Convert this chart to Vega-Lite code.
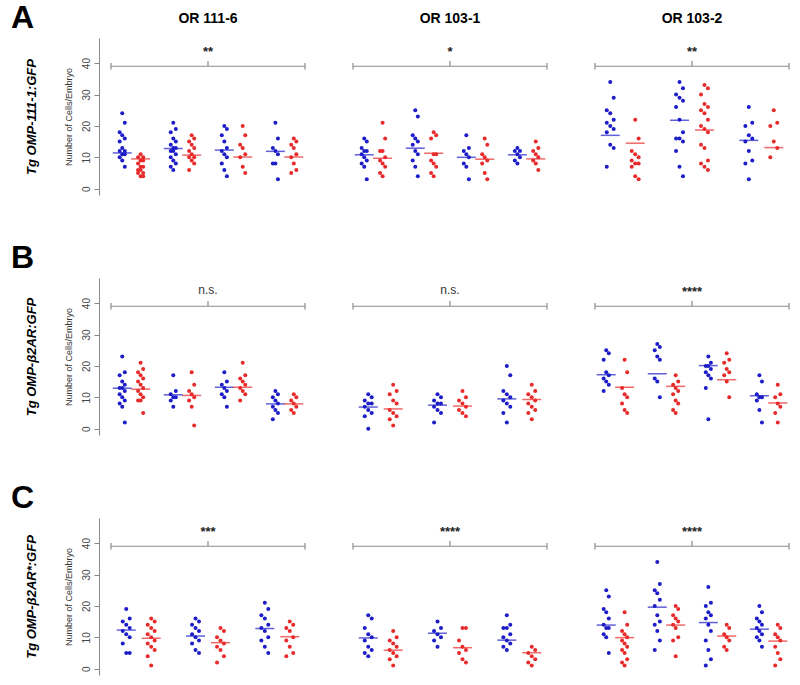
{
"$schema": "https://vega.github.io/schema/vega-lite/v6.json",
"padding": {"left": 11, "top": 2, "right": 5, "bottom": 5},
"config": {"font": "Liberation Sans", "view": {"stroke": null}, "axis": {"grid": false}},
"spacing": 47,
"datasets": {
"A": [
{"c":1,"g":1,"s":"b","v":24},{"c":1,"g":1,"s":"b","v":21},{"c":1,"g":1,"s":"b","v":18},{"c":1,"g":1,"s":"b","v":17},{"c":1,"g":1,"s":"b","v":16},{"c":1,"g":1,"s":"b","v":15},{"c":1,"g":1,"s":"b","v":13},{"c":1,"g":1,"s":"b","v":12},{"c":1,"g":1,"s":"b","v":12},{"c":1,"g":1,"s":"b","v":11},{"c":1,"g":1,"s":"b","v":11},{"c":1,"g":1,"s":"b","v":10},{"c":1,"g":1,"s":"b","v":9},{"c":1,"g":1,"s":"b","v":7},
{"c":1,"g":1,"s":"r","v":11},{"c":1,"g":1,"s":"r","v":10},{"c":1,"g":1,"s":"r","v":10},{"c":1,"g":1,"s":"r","v":9},{"c":1,"g":1,"s":"r","v":9},{"c":1,"g":1,"s":"r","v":8},{"c":1,"g":1,"s":"r","v":7},{"c":1,"g":1,"s":"r","v":7},{"c":1,"g":1,"s":"r","v":6},{"c":1,"g":1,"s":"r","v":6},{"c":1,"g":1,"s":"r","v":5},{"c":1,"g":1,"s":"r","v":5},{"c":1,"g":1,"s":"r","v":4},{"c":1,"g":1,"s":"r","v":4},
{"c":1,"g":2,"s":"b","v":21},{"c":1,"g":2,"s":"b","v":19},{"c":1,"g":2,"s":"b","v":18},{"c":1,"g":2,"s":"b","v":16},{"c":1,"g":2,"s":"b","v":15},{"c":1,"g":2,"s":"b","v":14},{"c":1,"g":2,"s":"b","v":13},{"c":1,"g":2,"s":"b","v":13},{"c":1,"g":2,"s":"b","v":12},{"c":1,"g":2,"s":"b","v":12},{"c":1,"g":2,"s":"b","v":11},{"c":1,"g":2,"s":"b","v":10},{"c":1,"g":2,"s":"b","v":9},{"c":1,"g":2,"s":"b","v":8},{"c":1,"g":2,"s":"b","v":7},{"c":1,"g":2,"s":"b","v":6},
{"c":1,"g":2,"s":"r","v":17},{"c":1,"g":2,"s":"r","v":16},{"c":1,"g":2,"s":"r","v":15},{"c":1,"g":2,"s":"r","v":14},{"c":1,"g":2,"s":"r","v":13},{"c":1,"g":2,"s":"r","v":12},{"c":1,"g":2,"s":"r","v":11},{"c":1,"g":2,"s":"r","v":10},{"c":1,"g":2,"s":"r","v":10},{"c":1,"g":2,"s":"r","v":9},{"c":1,"g":2,"s":"r","v":8},{"c":1,"g":2,"s":"r","v":6},
{"c":1,"g":3,"s":"b","v":20},{"c":1,"g":3,"s":"b","v":19},{"c":1,"g":3,"s":"b","v":17},{"c":1,"g":3,"s":"b","v":15},{"c":1,"g":3,"s":"b","v":13},{"c":1,"g":3,"s":"b","v":12},{"c":1,"g":3,"s":"b","v":11},{"c":1,"g":3,"s":"b","v":10},{"c":1,"g":3,"s":"b","v":8},{"c":1,"g":3,"s":"b","v":6},{"c":1,"g":3,"s":"b","v":4},
{"c":1,"g":3,"s":"r","v":20},{"c":1,"g":3,"s":"r","v":17},{"c":1,"g":3,"s":"r","v":14},{"c":1,"g":3,"s":"r","v":13},{"c":1,"g":3,"s":"r","v":11},{"c":1,"g":3,"s":"r","v":10},{"c":1,"g":3,"s":"r","v":7},{"c":1,"g":3,"s":"r","v":5},
{"c":1,"g":4,"s":"b","v":21},{"c":1,"g":4,"s":"b","v":16},{"c":1,"g":4,"s":"b","v":13},{"c":1,"g":4,"s":"b","v":12},{"c":1,"g":4,"s":"b","v":11},{"c":1,"g":4,"s":"b","v":8},{"c":1,"g":4,"s":"b","v":8},{"c":1,"g":4,"s":"b","v":3},
{"c":1,"g":4,"s":"r","v":16},{"c":1,"g":4,"s":"r","v":15},{"c":1,"g":4,"s":"r","v":14},{"c":1,"g":4,"s":"r","v":13},{"c":1,"g":4,"s":"r","v":11},{"c":1,"g":4,"s":"r","v":10},{"c":1,"g":4,"s":"r","v":8},{"c":1,"g":4,"s":"r","v":6},{"c":1,"g":4,"s":"r","v":5},
{"c":2,"g":1,"s":"b","v":16},{"c":2,"g":1,"s":"b","v":15},{"c":2,"g":1,"s":"b","v":13},{"c":2,"g":1,"s":"b","v":12},{"c":2,"g":1,"s":"b","v":12},{"c":2,"g":1,"s":"b","v":11},{"c":2,"g":1,"s":"b","v":10},{"c":2,"g":1,"s":"b","v":9},{"c":2,"g":1,"s":"b","v":8},{"c":2,"g":1,"s":"b","v":7},{"c":2,"g":1,"s":"b","v":3},
{"c":2,"g":1,"s":"r","v":21},{"c":2,"g":1,"s":"r","v":16},{"c":2,"g":1,"s":"r","v":12},{"c":2,"g":1,"s":"r","v":12},{"c":2,"g":1,"s":"r","v":10},{"c":2,"g":1,"s":"r","v":9},{"c":2,"g":1,"s":"r","v":8},{"c":2,"g":1,"s":"r","v":7},{"c":2,"g":1,"s":"r","v":5},{"c":2,"g":1,"s":"r","v":4},
{"c":2,"g":2,"s":"b","v":25},{"c":2,"g":2,"s":"b","v":23},{"c":2,"g":2,"s":"b","v":17},{"c":2,"g":2,"s":"b","v":16},{"c":2,"g":2,"s":"b","v":15},{"c":2,"g":2,"s":"b","v":14},{"c":2,"g":2,"s":"b","v":12},{"c":2,"g":2,"s":"b","v":11},{"c":2,"g":2,"s":"b","v":9},{"c":2,"g":2,"s":"b","v":7},{"c":2,"g":2,"s":"b","v":4},
{"c":2,"g":2,"s":"r","v":18},{"c":2,"g":2,"s":"r","v":17},{"c":2,"g":2,"s":"r","v":16},{"c":2,"g":2,"s":"r","v":11},{"c":2,"g":2,"s":"r","v":11},{"c":2,"g":2,"s":"r","v":9},{"c":2,"g":2,"s":"r","v":8},{"c":2,"g":2,"s":"r","v":7},{"c":2,"g":2,"s":"r","v":5},{"c":2,"g":2,"s":"r","v":4},
{"c":2,"g":3,"s":"b","v":17},{"c":2,"g":3,"s":"b","v":13},{"c":2,"g":3,"s":"b","v":12},{"c":2,"g":3,"s":"b","v":11},{"c":2,"g":3,"s":"b","v":10},{"c":2,"g":3,"s":"b","v":8},{"c":2,"g":3,"s":"b","v":7},{"c":2,"g":3,"s":"b","v":3},
{"c":2,"g":3,"s":"r","v":16},{"c":2,"g":3,"s":"r","v":14},{"c":2,"g":3,"s":"r","v":11},{"c":2,"g":3,"s":"r","v":10},{"c":2,"g":3,"s":"r","v":9},{"c":2,"g":3,"s":"r","v":8},{"c":2,"g":3,"s":"r","v":5},{"c":2,"g":3,"s":"r","v":3},
{"c":2,"g":4,"s":"b","v":13},{"c":2,"g":4,"s":"b","v":12},{"c":2,"g":4,"s":"b","v":12},{"c":2,"g":4,"s":"b","v":11},{"c":2,"g":4,"s":"b","v":10},{"c":2,"g":4,"s":"b","v":9},{"c":2,"g":4,"s":"b","v":8},
{"c":2,"g":4,"s":"r","v":15},{"c":2,"g":4,"s":"r","v":13},{"c":2,"g":4,"s":"r","v":12},{"c":2,"g":4,"s":"r","v":11},{"c":2,"g":4,"s":"r","v":10},{"c":2,"g":4,"s":"r","v":9},{"c":2,"g":4,"s":"r","v":8},{"c":2,"g":4,"s":"r","v":6},
{"c":3,"g":1,"s":"b","v":34},{"c":3,"g":1,"s":"b","v":29},{"c":3,"g":1,"s":"b","v":25},{"c":3,"g":1,"s":"b","v":24},{"c":3,"g":1,"s":"b","v":22},{"c":3,"g":1,"s":"b","v":21},{"c":3,"g":1,"s":"b","v":20},{"c":3,"g":1,"s":"b","v":19},{"c":3,"g":1,"s":"b","v":18},{"c":3,"g":1,"s":"b","v":14},{"c":3,"g":1,"s":"b","v":13},{"c":3,"g":1,"s":"b","v":7},
{"c":3,"g":1,"s":"r","v":22},{"c":3,"g":1,"s":"r","v":16},{"c":3,"g":1,"s":"r","v":12},{"c":3,"g":1,"s":"r","v":11},{"c":3,"g":1,"s":"r","v":10},{"c":3,"g":1,"s":"r","v":9},{"c":3,"g":1,"s":"r","v":8},{"c":3,"g":1,"s":"r","v":8},{"c":3,"g":1,"s":"r","v":7},{"c":3,"g":1,"s":"r","v":4},{"c":3,"g":1,"s":"r","v":3},
{"c":3,"g":2,"s":"b","v":34},{"c":3,"g":2,"s":"b","v":32},{"c":3,"g":2,"s":"b","v":30},{"c":3,"g":2,"s":"b","v":29},{"c":3,"g":2,"s":"b","v":28},{"c":3,"g":2,"s":"b","v":26},{"c":3,"g":2,"s":"b","v":22},{"c":3,"g":2,"s":"b","v":18},{"c":3,"g":2,"s":"b","v":16},{"c":3,"g":2,"s":"b","v":16},{"c":3,"g":2,"s":"b","v":15},{"c":3,"g":2,"s":"b","v":12},{"c":3,"g":2,"s":"b","v":7},{"c":3,"g":2,"s":"b","v":4},
{"c":3,"g":2,"s":"r","v":33},{"c":3,"g":2,"s":"r","v":32},{"c":3,"g":2,"s":"r","v":30},{"c":3,"g":2,"s":"r","v":27},{"c":3,"g":2,"s":"r","v":26},{"c":3,"g":2,"s":"r","v":25},{"c":3,"g":2,"s":"r","v":24},{"c":3,"g":2,"s":"r","v":22},{"c":3,"g":2,"s":"r","v":20},{"c":3,"g":2,"s":"r","v":19},{"c":3,"g":2,"s":"r","v":18},{"c":3,"g":2,"s":"r","v":14},{"c":3,"g":2,"s":"r","v":13},{"c":3,"g":2,"s":"r","v":9},{"c":3,"g":2,"s":"r","v":8},{"c":3,"g":2,"s":"r","v":7},{"c":3,"g":2,"s":"r","v":6},
{"c":3,"g":3,"s":"b","v":26},{"c":3,"g":3,"s":"b","v":21},{"c":3,"g":3,"s":"b","v":20},{"c":3,"g":3,"s":"b","v":17},{"c":3,"g":3,"s":"b","v":16},{"c":3,"g":3,"s":"b","v":15},{"c":3,"g":3,"s":"b","v":12},{"c":3,"g":3,"s":"b","v":9},{"c":3,"g":3,"s":"b","v":8},{"c":3,"g":3,"s":"b","v":3},
{"c":3,"g":3,"s":"r","v":25},{"c":3,"g":3,"s":"r","v":21},{"c":3,"g":3,"s":"r","v":20},{"c":3,"g":3,"s":"r","v":15},{"c":3,"g":3,"s":"r","v":13},{"c":3,"g":3,"s":"r","v":10},
{"c":1,"g":1,"s":"b","v":11.4,"k":"m"},{"c":1,"g":1,"s":"r","v":9.5,"k":"m"},{"c":1,"g":2,"s":"b","v":12.8,"k":"m"},{"c":1,"g":2,"s":"r","v":10.7,"k":"m"},{"c":1,"g":3,"s":"b","v":12.3,"k":"m"},{"c":1,"g":3,"s":"r","v":10.1,"k":"m"},{"c":1,"g":4,"s":"b","v":11.9,"k":"m"},{"c":1,"g":4,"s":"r","v":10.1,"k":"m"},
{"c":2,"g":1,"s":"b","v":10.8,"k":"m"},{"c":2,"g":1,"s":"r","v":9.7,"k":"m"},{"c":2,"g":2,"s":"b","v":12.9,"k":"m"},{"c":2,"g":2,"s":"r","v":11.3,"k":"m"},{"c":2,"g":3,"s":"b","v":10.0,"k":"m"},{"c":2,"g":3,"s":"r","v":9.4,"k":"m"},{"c":2,"g":4,"s":"b","v":10.8,"k":"m"},{"c":2,"g":4,"s":"r","v":9.5,"k":"m"},
{"c":3,"g":1,"s":"b","v":17.0,"k":"m"},{"c":3,"g":1,"s":"r","v":14.5,"k":"m"},{"c":3,"g":2,"s":"b","v":21.8,"k":"m"},{"c":3,"g":2,"s":"r","v":18.7,"k":"m"},{"c":3,"g":3,"s":"b","v":15.4,"k":"m"},{"c":3,"g":3,"s":"r","v":13.1,"k":"m"},
{"c":1,"k":"b","lo":0.6,"hi":4.4,"mid":2.5,"sig":"**"},{"c":2,"k":"b","lo":0.6,"hi":4.4,"mid":2.5,"sig":"*"},{"c":3,"k":"b","lo":0.6,"hi":3.4,"mid":2,"sig":"**"}
],
"B": [
{"c":1,"g":1,"s":"b","v":23},{"c":1,"g":1,"s":"b","v":18},{"c":1,"g":1,"s":"b","v":17},{"c":1,"g":1,"s":"b","v":15},{"c":1,"g":1,"s":"b","v":14},{"c":1,"g":1,"s":"b","v":13},{"c":1,"g":1,"s":"b","v":13},{"c":1,"g":1,"s":"b","v":12},{"c":1,"g":1,"s":"b","v":11},{"c":1,"g":1,"s":"b","v":10},{"c":1,"g":1,"s":"b","v":9},{"c":1,"g":1,"s":"b","v":8},{"c":1,"g":1,"s":"b","v":7},{"c":1,"g":1,"s":"b","v":2},
{"c":1,"g":1,"s":"r","v":21},{"c":1,"g":1,"s":"r","v":19},{"c":1,"g":1,"s":"r","v":18},{"c":1,"g":1,"s":"r","v":17},{"c":1,"g":1,"s":"r","v":16},{"c":1,"g":1,"s":"r","v":15},{"c":1,"g":1,"s":"r","v":14},{"c":1,"g":1,"s":"r","v":13},{"c":1,"g":1,"s":"r","v":12},{"c":1,"g":1,"s":"r","v":11},{"c":1,"g":1,"s":"r","v":10},{"c":1,"g":1,"s":"r","v":9},{"c":1,"g":1,"s":"r","v":9},{"c":1,"g":1,"s":"r","v":5},
{"c":1,"g":2,"s":"b","v":17},{"c":1,"g":2,"s":"b","v":12},{"c":1,"g":2,"s":"b","v":11},{"c":1,"g":2,"s":"b","v":10},{"c":1,"g":2,"s":"b","v":10},{"c":1,"g":2,"s":"b","v":9},{"c":1,"g":2,"s":"b","v":7},
{"c":1,"g":2,"s":"r","v":18},{"c":1,"g":2,"s":"r","v":14},{"c":1,"g":2,"s":"r","v":12},{"c":1,"g":2,"s":"r","v":11},{"c":1,"g":2,"s":"r","v":10},{"c":1,"g":2,"s":"r","v":9},{"c":1,"g":2,"s":"r","v":7},{"c":1,"g":2,"s":"r","v":1},
{"c":1,"g":3,"s":"b","v":18},{"c":1,"g":3,"s":"b","v":15},{"c":1,"g":3,"s":"b","v":14},{"c":1,"g":3,"s":"b","v":13},{"c":1,"g":3,"s":"b","v":12},{"c":1,"g":3,"s":"b","v":11},{"c":1,"g":3,"s":"b","v":10},{"c":1,"g":3,"s":"b","v":7},
{"c":1,"g":3,"s":"r","v":21},{"c":1,"g":3,"s":"r","v":17},{"c":1,"g":3,"s":"r","v":16},{"c":1,"g":3,"s":"r","v":15},{"c":1,"g":3,"s":"r","v":14},{"c":1,"g":3,"s":"r","v":13},{"c":1,"g":3,"s":"r","v":12},{"c":1,"g":3,"s":"r","v":11},{"c":1,"g":3,"s":"r","v":9},
{"c":1,"g":4,"s":"b","v":12},{"c":1,"g":4,"s":"b","v":11},{"c":1,"g":4,"s":"b","v":10},{"c":1,"g":4,"s":"b","v":9},{"c":1,"g":4,"s":"b","v":8},{"c":1,"g":4,"s":"b","v":7},{"c":1,"g":4,"s":"b","v":6},{"c":1,"g":4,"s":"b","v":5},{"c":1,"g":4,"s":"b","v":3},
{"c":1,"g":4,"s":"r","v":11},{"c":1,"g":4,"s":"r","v":10},{"c":1,"g":4,"s":"r","v":9},{"c":1,"g":4,"s":"r","v":8},{"c":1,"g":4,"s":"r","v":7},{"c":1,"g":4,"s":"r","v":6},{"c":1,"g":4,"s":"r","v":5},
{"c":2,"g":1,"s":"b","v":11},{"c":2,"g":1,"s":"b","v":10},{"c":2,"g":1,"s":"b","v":9},{"c":2,"g":1,"s":"b","v":8},{"c":2,"g":1,"s":"b","v":8},{"c":2,"g":1,"s":"b","v":7},{"c":2,"g":1,"s":"b","v":6},{"c":2,"g":1,"s":"b","v":5},{"c":2,"g":1,"s":"b","v":4},{"c":2,"g":1,"s":"b","v":0},
{"c":2,"g":1,"s":"r","v":14},{"c":2,"g":1,"s":"r","v":12},{"c":2,"g":1,"s":"r","v":11},{"c":2,"g":1,"s":"r","v":9},{"c":2,"g":1,"s":"r","v":8},{"c":2,"g":1,"s":"r","v":6},{"c":2,"g":1,"s":"r","v":5},{"c":2,"g":1,"s":"r","v":4},{"c":2,"g":1,"s":"r","v":3},{"c":2,"g":1,"s":"r","v":1},
{"c":2,"g":2,"s":"b","v":11},{"c":2,"g":2,"s":"b","v":10},{"c":2,"g":2,"s":"b","v":9},{"c":2,"g":2,"s":"b","v":8},{"c":2,"g":2,"s":"b","v":8},{"c":2,"g":2,"s":"b","v":7},{"c":2,"g":2,"s":"b","v":6},{"c":2,"g":2,"s":"b","v":5},{"c":2,"g":2,"s":"b","v":2},
{"c":2,"g":2,"s":"r","v":12},{"c":2,"g":2,"s":"r","v":10},{"c":2,"g":2,"s":"r","v":9},{"c":2,"g":2,"s":"r","v":8},{"c":2,"g":2,"s":"r","v":7},{"c":2,"g":2,"s":"r","v":6},{"c":2,"g":2,"s":"r","v":5},{"c":2,"g":2,"s":"r","v":4},
{"c":2,"g":3,"s":"b","v":20},{"c":2,"g":3,"s":"b","v":17},{"c":2,"g":3,"s":"b","v":12},{"c":2,"g":3,"s":"b","v":11},{"c":2,"g":3,"s":"b","v":10},{"c":2,"g":3,"s":"b","v":9},{"c":2,"g":3,"s":"b","v":8},{"c":2,"g":3,"s":"b","v":7},{"c":2,"g":3,"s":"b","v":5},{"c":2,"g":3,"s":"b","v":2},
{"c":2,"g":3,"s":"r","v":14},{"c":2,"g":3,"s":"r","v":12},{"c":2,"g":3,"s":"r","v":11},{"c":2,"g":3,"s":"r","v":10},{"c":2,"g":3,"s":"r","v":9},{"c":2,"g":3,"s":"r","v":8},{"c":2,"g":3,"s":"r","v":7},{"c":2,"g":3,"s":"r","v":6},{"c":2,"g":3,"s":"r","v":5},{"c":2,"g":3,"s":"r","v":3},
{"c":3,"g":1,"s":"b","v":25},{"c":3,"g":1,"s":"b","v":24},{"c":3,"g":1,"s":"b","v":22},{"c":3,"g":1,"s":"b","v":18},{"c":3,"g":1,"s":"b","v":17},{"c":3,"g":1,"s":"b","v":16},{"c":3,"g":1,"s":"b","v":15},{"c":3,"g":1,"s":"b","v":14},{"c":3,"g":1,"s":"b","v":12},
{"c":3,"g":1,"s":"r","v":22},{"c":3,"g":1,"s":"r","v":18},{"c":3,"g":1,"s":"r","v":13},{"c":3,"g":1,"s":"r","v":11},{"c":3,"g":1,"s":"r","v":10},{"c":3,"g":1,"s":"r","v":8},{"c":3,"g":1,"s":"r","v":6},{"c":3,"g":1,"s":"r","v":5},
{"c":3,"g":2,"s":"b","v":27},{"c":3,"g":2,"s":"b","v":26},{"c":3,"g":2,"s":"b","v":25},{"c":3,"g":2,"s":"b","v":23},{"c":3,"g":2,"s":"b","v":22},{"c":3,"g":2,"s":"b","v":16},{"c":3,"g":2,"s":"b","v":15},{"c":3,"g":2,"s":"b","v":10},
{"c":3,"g":2,"s":"r","v":17},{"c":3,"g":2,"s":"r","v":15},{"c":3,"g":2,"s":"r","v":14},{"c":3,"g":2,"s":"r","v":13},{"c":3,"g":2,"s":"r","v":12},{"c":3,"g":2,"s":"r","v":11},{"c":3,"g":2,"s":"r","v":9},{"c":3,"g":2,"s":"r","v":8},{"c":3,"g":2,"s":"r","v":6},{"c":3,"g":2,"s":"r","v":5},
{"c":3,"g":3,"s":"b","v":23},{"c":3,"g":3,"s":"b","v":21},{"c":3,"g":3,"s":"b","v":20},{"c":3,"g":3,"s":"b","v":20},{"c":3,"g":3,"s":"b","v":19},{"c":3,"g":3,"s":"b","v":18},{"c":3,"g":3,"s":"b","v":17},{"c":3,"g":3,"s":"b","v":16},{"c":3,"g":3,"s":"b","v":13},{"c":3,"g":3,"s":"b","v":3},
{"c":3,"g":3,"s":"r","v":24},{"c":3,"g":3,"s":"r","v":22},{"c":3,"g":3,"s":"r","v":21},{"c":3,"g":3,"s":"r","v":19},{"c":3,"g":3,"s":"r","v":18},{"c":3,"g":3,"s":"r","v":17},{"c":3,"g":3,"s":"r","v":15},{"c":3,"g":3,"s":"r","v":10},
{"c":3,"g":4,"s":"b","v":17},{"c":3,"g":4,"s":"b","v":15},{"c":3,"g":4,"s":"b","v":11},{"c":3,"g":4,"s":"b","v":10},{"c":3,"g":4,"s":"b","v":10},{"c":3,"g":4,"s":"b","v":9},{"c":3,"g":4,"s":"b","v":6},{"c":3,"g":4,"s":"b","v":2},
{"c":3,"g":4,"s":"r","v":14},{"c":3,"g":4,"s":"r","v":11},{"c":3,"g":4,"s":"r","v":10},{"c":3,"g":4,"s":"r","v":8},{"c":3,"g":4,"s":"r","v":7},{"c":3,"g":4,"s":"r","v":5},{"c":3,"g":4,"s":"r","v":2},
{"c":1,"g":1,"s":"b","v":12.9,"k":"m"},{"c":1,"g":1,"s":"r","v":12.6,"k":"m"},{"c":1,"g":2,"s":"b","v":10.8,"k":"m"},{"c":1,"g":2,"s":"r","v":10.6,"k":"m"},{"c":1,"g":3,"s":"b","v":13.2,"k":"m"},{"c":1,"g":3,"s":"r","v":13.2,"k":"m"},{"c":1,"g":4,"s":"b","v":7.9,"k":"m"},{"c":1,"g":4,"s":"r","v":7.9,"k":"m"},
{"c":2,"g":1,"s":"b","v":6.9,"k":"m"},{"c":2,"g":1,"s":"r","v":6.3,"k":"m"},{"c":2,"g":2,"s":"b","v":7.5,"k":"m"},{"c":2,"g":2,"s":"r","v":7.2,"k":"m"},{"c":2,"g":3,"s":"b","v":9.5,"k":"m"},{"c":2,"g":3,"s":"r","v":9.3,"k":"m"},
{"c":3,"g":1,"s":"b","v":17.2,"k":"m"},{"c":3,"g":1,"s":"r","v":13.2,"k":"m"},{"c":3,"g":2,"s":"b","v":17.5,"k":"m"},{"c":3,"g":2,"s":"r","v":13.5,"k":"m"},{"c":3,"g":3,"s":"b","v":20.1,"k":"m"},{"c":3,"g":3,"s":"r","v":15.6,"k":"m"},{"c":3,"g":4,"s":"b","v":10.5,"k":"m"},{"c":3,"g":4,"s":"r","v":8.2,"k":"m"},
{"c":1,"k":"b","lo":0.6,"hi":4.4,"mid":2.5,"sig":"n.s."},{"c":2,"k":"b","lo":0.6,"hi":3.4,"mid":2,"sig":"n.s."},{"c":3,"k":"b","lo":0.6,"hi":4.4,"mid":2.5,"sig":"****"}
],
"C": [
{"c":1,"g":1,"s":"b","v":19},{"c":1,"g":1,"s":"b","v":16},{"c":1,"g":1,"s":"b","v":15},{"c":1,"g":1,"s":"b","v":14},{"c":1,"g":1,"s":"b","v":13},{"c":1,"g":1,"s":"b","v":12},{"c":1,"g":1,"s":"b","v":11},{"c":1,"g":1,"s":"b","v":10},{"c":1,"g":1,"s":"b","v":8},{"c":1,"g":1,"s":"b","v":5},{"c":1,"g":1,"s":"b","v":5},
{"c":1,"g":1,"s":"r","v":16},{"c":1,"g":1,"s":"r","v":15},{"c":1,"g":1,"s":"r","v":14},{"c":1,"g":1,"s":"r","v":13},{"c":1,"g":1,"s":"r","v":12},{"c":1,"g":1,"s":"r","v":11},{"c":1,"g":1,"s":"r","v":10},{"c":1,"g":1,"s":"r","v":9},{"c":1,"g":1,"s":"r","v":8},{"c":1,"g":1,"s":"r","v":7},{"c":1,"g":1,"s":"r","v":6},{"c":1,"g":1,"s":"r","v":4},{"c":1,"g":1,"s":"r","v":1},
{"c":1,"g":2,"s":"b","v":16},{"c":1,"g":2,"s":"b","v":15},{"c":1,"g":2,"s":"b","v":14},{"c":1,"g":2,"s":"b","v":13},{"c":1,"g":2,"s":"b","v":12},{"c":1,"g":2,"s":"b","v":11},{"c":1,"g":2,"s":"b","v":10},{"c":1,"g":2,"s":"b","v":9},{"c":1,"g":2,"s":"b","v":8},{"c":1,"g":2,"s":"b","v":6},{"c":1,"g":2,"s":"b","v":5},
{"c":1,"g":2,"s":"r","v":13},{"c":1,"g":2,"s":"r","v":12},{"c":1,"g":2,"s":"r","v":10},{"c":1,"g":2,"s":"r","v":9},{"c":1,"g":2,"s":"r","v":8},{"c":1,"g":2,"s":"r","v":7},{"c":1,"g":2,"s":"r","v":6},{"c":1,"g":2,"s":"r","v":4},{"c":1,"g":2,"s":"r","v":2},
{"c":1,"g":3,"s":"b","v":21},{"c":1,"g":3,"s":"b","v":19},{"c":1,"g":3,"s":"b","v":17},{"c":1,"g":3,"s":"b","v":16},{"c":1,"g":3,"s":"b","v":14},{"c":1,"g":3,"s":"b","v":13},{"c":1,"g":3,"s":"b","v":12},{"c":1,"g":3,"s":"b","v":10},{"c":1,"g":3,"s":"b","v":9},{"c":1,"g":3,"s":"b","v":7},{"c":1,"g":3,"s":"b","v":5},
{"c":1,"g":3,"s":"r","v":15},{"c":1,"g":3,"s":"r","v":14},{"c":1,"g":3,"s":"r","v":13},{"c":1,"g":3,"s":"r","v":12},{"c":1,"g":3,"s":"r","v":10},{"c":1,"g":3,"s":"r","v":9},{"c":1,"g":3,"s":"r","v":7},{"c":1,"g":3,"s":"r","v":5},{"c":1,"g":3,"s":"r","v":4},
{"c":2,"g":1,"s":"b","v":17},{"c":2,"g":1,"s":"b","v":16},{"c":2,"g":1,"s":"b","v":13},{"c":2,"g":1,"s":"b","v":11},{"c":2,"g":1,"s":"b","v":10},{"c":2,"g":1,"s":"b","v":9},{"c":2,"g":1,"s":"b","v":7},{"c":2,"g":1,"s":"b","v":6},{"c":2,"g":1,"s":"b","v":5},{"c":2,"g":1,"s":"b","v":4},
{"c":2,"g":1,"s":"r","v":12},{"c":2,"g":1,"s":"r","v":10},{"c":2,"g":1,"s":"r","v":9},{"c":2,"g":1,"s":"r","v":8},{"c":2,"g":1,"s":"r","v":7},{"c":2,"g":1,"s":"r","v":6},{"c":2,"g":1,"s":"r","v":5},{"c":2,"g":1,"s":"r","v":4},{"c":2,"g":1,"s":"r","v":3},{"c":2,"g":1,"s":"r","v":1},
{"c":2,"g":2,"s":"b","v":15},{"c":2,"g":2,"s":"b","v":13},{"c":2,"g":2,"s":"b","v":12},{"c":2,"g":2,"s":"b","v":11},{"c":2,"g":2,"s":"b","v":10},{"c":2,"g":2,"s":"b","v":9},{"c":2,"g":2,"s":"b","v":7},
{"c":2,"g":2,"s":"r","v":13},{"c":2,"g":2,"s":"r","v":13},{"c":2,"g":2,"s":"r","v":9},{"c":2,"g":2,"s":"r","v":7},{"c":2,"g":2,"s":"r","v":6},{"c":2,"g":2,"s":"r","v":5},{"c":2,"g":2,"s":"r","v":3},{"c":2,"g":2,"s":"r","v":2},
{"c":2,"g":3,"s":"b","v":17},{"c":2,"g":3,"s":"b","v":14},{"c":2,"g":3,"s":"b","v":13},{"c":2,"g":3,"s":"b","v":13},{"c":2,"g":3,"s":"b","v":11},{"c":2,"g":3,"s":"b","v":10},{"c":2,"g":3,"s":"b","v":9},{"c":2,"g":3,"s":"b","v":8},{"c":2,"g":3,"s":"b","v":7},{"c":2,"g":3,"s":"b","v":6},
{"c":2,"g":3,"s":"r","v":7},{"c":2,"g":3,"s":"r","v":6},{"c":2,"g":3,"s":"r","v":5},{"c":2,"g":3,"s":"r","v":4},{"c":2,"g":3,"s":"r","v":3},{"c":2,"g":3,"s":"r","v":2},{"c":2,"g":3,"s":"r","v":1},
{"c":3,"g":1,"s":"b","v":25},{"c":3,"g":1,"s":"b","v":23},{"c":3,"g":1,"s":"b","v":19},{"c":3,"g":1,"s":"b","v":18},{"c":3,"g":1,"s":"b","v":16},{"c":3,"g":1,"s":"b","v":14},{"c":3,"g":1,"s":"b","v":13},{"c":3,"g":1,"s":"b","v":13},{"c":3,"g":1,"s":"b","v":11},{"c":3,"g":1,"s":"b","v":10},{"c":3,"g":1,"s":"b","v":5},
{"c":3,"g":1,"s":"r","v":18},{"c":3,"g":1,"s":"r","v":14},{"c":3,"g":1,"s":"r","v":12},{"c":3,"g":1,"s":"r","v":11},{"c":3,"g":1,"s":"r","v":10},{"c":3,"g":1,"s":"r","v":9},{"c":3,"g":1,"s":"r","v":8},{"c":3,"g":1,"s":"r","v":7},{"c":3,"g":1,"s":"r","v":6},{"c":3,"g":1,"s":"r","v":5},{"c":3,"g":1,"s":"r","v":3},{"c":3,"g":1,"s":"r","v":2},{"c":3,"g":1,"s":"r","v":1},
{"c":3,"g":2,"s":"b","v":34},{"c":3,"g":2,"s":"b","v":27},{"c":3,"g":2,"s":"b","v":25},{"c":3,"g":2,"s":"b","v":24},{"c":3,"g":2,"s":"b","v":22},{"c":3,"g":2,"s":"b","v":20},{"c":3,"g":2,"s":"b","v":17},{"c":3,"g":2,"s":"b","v":15},{"c":3,"g":2,"s":"b","v":14},{"c":3,"g":2,"s":"b","v":12},{"c":3,"g":2,"s":"b","v":9},{"c":3,"g":2,"s":"b","v":6},
{"c":3,"g":2,"s":"r","v":20},{"c":3,"g":2,"s":"r","v":19},{"c":3,"g":2,"s":"r","v":17},{"c":3,"g":2,"s":"r","v":16},{"c":3,"g":2,"s":"r","v":15},{"c":3,"g":2,"s":"r","v":14},{"c":3,"g":2,"s":"r","v":13},{"c":3,"g":2,"s":"r","v":10},{"c":3,"g":2,"s":"r","v":9},{"c":3,"g":2,"s":"r","v":4},
{"c":3,"g":3,"s":"b","v":26},{"c":3,"g":3,"s":"b","v":21},{"c":3,"g":3,"s":"b","v":20},{"c":3,"g":3,"s":"b","v":18},{"c":3,"g":3,"s":"b","v":17},{"c":3,"g":3,"s":"b","v":16},{"c":3,"g":3,"s":"b","v":14},{"c":3,"g":3,"s":"b","v":12},{"c":3,"g":3,"s":"b","v":9},{"c":3,"g":3,"s":"b","v":6},{"c":3,"g":3,"s":"b","v":3},{"c":3,"g":3,"s":"b","v":1},
{"c":3,"g":3,"s":"r","v":14},{"c":3,"g":3,"s":"r","v":13},{"c":3,"g":3,"s":"r","v":11},{"c":3,"g":3,"s":"r","v":10},{"c":3,"g":3,"s":"r","v":9},{"c":3,"g":3,"s":"r","v":7},{"c":3,"g":3,"s":"r","v":6},
{"c":3,"g":4,"s":"b","v":20},{"c":3,"g":4,"s":"b","v":18},{"c":3,"g":4,"s":"b","v":16},{"c":3,"g":4,"s":"b","v":15},{"c":3,"g":4,"s":"b","v":14},{"c":3,"g":4,"s":"b","v":13},{"c":3,"g":4,"s":"b","v":12},{"c":3,"g":4,"s":"b","v":11},{"c":3,"g":4,"s":"b","v":10},{"c":3,"g":4,"s":"b","v":9},{"c":3,"g":4,"s":"b","v":7},
{"c":3,"g":4,"s":"r","v":14},{"c":3,"g":4,"s":"r","v":13},{"c":3,"g":4,"s":"r","v":11},{"c":3,"g":4,"s":"r","v":10},{"c":3,"g":4,"s":"r","v":9},{"c":3,"g":4,"s":"r","v":7},{"c":3,"g":4,"s":"r","v":5},{"c":3,"g":4,"s":"r","v":3},{"c":3,"g":4,"s":"r","v":1},
{"c":1,"g":1,"s":"b","v":12.3,"k":"m"},{"c":1,"g":1,"s":"r","v":9.7,"k":"m"},{"c":1,"g":2,"s":"b","v":10.4,"k":"m"},{"c":1,"g":2,"s":"r","v":8.3,"k":"m"},{"c":1,"g":3,"s":"b","v":12.8,"k":"m"},{"c":1,"g":3,"s":"r","v":10.2,"k":"m"},
{"c":2,"g":1,"s":"b","v":9.8,"k":"m"},{"c":2,"g":1,"s":"r","v":5.9,"k":"m"},{"c":2,"g":2,"s":"b","v":11.3,"k":"m"},{"c":2,"g":2,"s":"r","v":6.7,"k":"m"},{"c":2,"g":3,"s":"b","v":9.1,"k":"m"},{"c":2,"g":3,"s":"r","v":5.1,"k":"m"},
{"c":3,"g":1,"s":"b","v":13.9,"k":"m"},{"c":3,"g":1,"s":"r","v":9.9,"k":"m"},{"c":3,"g":2,"s":"b","v":19.6,"k":"m"},{"c":3,"g":2,"s":"r","v":13.9,"k":"m"},{"c":3,"g":3,"s":"b","v":14.7,"k":"m"},{"c":3,"g":3,"s":"r","v":10.4,"k":"m"},{"c":3,"g":4,"s":"b","v":12.6,"k":"m"},{"c":3,"g":4,"s":"r","v":8.8,"k":"m"},
{"c":1,"k":"b","lo":0.6,"hi":3.4,"mid":2,"sig":"***"},{"c":2,"k":"b","lo":0.6,"hi":3.4,"mid":2,"sig":"****"},{"c":3,"k":"b","lo":0.6,"hi":4.4,"mid":2.5,"sig":"****"}
]
},
"vconcat": [
{
"data": {"name": "A"},
"title": {"text": "A", "anchor": "start", "frame": "bounds", "fontSize": 32, "fontWeight": "bold", "color": "#000", "offset": 3, "dx": -14, "dy": 26},
"transform": [
{"window": [{"op": "row_number", "as": "rn"}], "groupby": ["c", "g", "s"]},
{"calculate": "datum.g + (datum.s == 'b' ? -0.18 : 0.18)", "as": "xp"},
{"calculate": "datum.xp + ((datum.rn % 3) - 1) * 0.05", "as": "xj"}
],
"facet": {"column": {"field": "c", "type": "ordinal", "header": {"title": null, "labelExpr": "['','OR 111-6','OR 103-1','OR 103-2'][datum.value]", "labelFontSize": 14, "labelFontWeight": "bold", "labelColor": "#000", "labelPadding": 12}}},
"spacing": 46,
"resolve": {"scale": {"x": "independent"}},
"spec": {
"width": 194, "height": 157,
"resolve": {"axis": {"y": "independent"}},
"layer": [
{"transform": [{"filter": "!datum.k"}], "mark": {"type": "circle", "size": 16, "opacity": 1},
 "encoding": {
  "x": {"field": "xj", "type": "quantitative", "scale": {"zero": false, "nice": false, "padding": 0}, "axis": {"title": null, "labels": false, "ticks": false, "grid": false, "domainColor": "#888", "domainWidth": 1.2}},
  "y": {"field": "v", "type": "quantitative", "scale": {"domain": [-2, 48], "nice": false, "zero": false}, "axis": {"orient": "left", "offset": 11, "values": [0, 10, 20, 30, 40], "title": "Number of Cells/Embryo", "titleFontSize": 9, "titleFontWeight": "normal", "titleColor": "#333", "titlePadding": 8, "labelAngle": -90, "labelAlign": "center", "labelBaseline": "bottom", "labelFontSize": 10, "labelColor": "#444", "labelPadding": 3, "tickColor": "#888", "domainColor": "#888", "tickSize": 5, "grid": false}},
  "color": {"field": "s", "type": "nominal", "scale": {"domain": ["b", "r"], "range": ["#1c1cc8", "#e82a2a"]}, "legend": null}}},
{"transform": [{"filter": "datum.k == 'm'"}], "mark": {"type": "tick", "orient": "horizontal", "size": 19, "thickness": 1.5},
 "encoding": {"x": {"field": "xp", "type": "quantitative", "axis": null}, "y": {"field": "v", "type": "quantitative", "axis": null}, "color": {"field": "s", "type": "nominal", "legend": null}}},
{"transform": [{"filter": "datum.k == 'b'"}], "mark": {"type": "rule", "color": "#8a8a8a", "strokeWidth": 1.2},
 "encoding": {"x": {"field": "lo", "type": "quantitative", "axis": null}, "x2": {"field": "hi"}, "y": {"datum": 39, "type": "quantitative", "axis": {"orient": "left", "offset": 64, "title": "Tg OMP-111-1:GFP", "titleFontSize": 13, "titleFontWeight": "bold", "titleFontStyle": "italic", "titleColor": "#000", "titlePadding": 8, "labels": false, "ticks": false, "domain": false, "grid": false}}}},
{"transform": [{"filter": "datum.k == 'b'"}], "mark": {"type": "rule", "color": "#8a8a8a", "strokeWidth": 1.2},
 "encoding": {"x": {"field": "lo", "type": "quantitative", "axis": null}, "y": {"datum": 38, "type": "quantitative", "axis": null}, "y2": {"datum": 40}}},
{"transform": [{"filter": "datum.k == 'b'"}], "mark": {"type": "rule", "color": "#8a8a8a", "strokeWidth": 1.2},
 "encoding": {"x": {"field": "hi", "type": "quantitative", "axis": null}, "y": {"datum": 38, "type": "quantitative", "axis": null}, "y2": {"datum": 40}}},
{"transform": [{"filter": "datum.k == 'b'"}], "mark": {"type": "rule", "color": "#8a8a8a", "strokeWidth": 1.2},
 "encoding": {"x": {"field": "mid", "type": "quantitative", "axis": null}, "y": {"datum": 39, "type": "quantitative", "axis": null}, "y2": {"datum": 40.7}}},
{"transform": [{"filter": "datum.k == 'b' && datum.sig != 'n.s.'"}], "mark": {"type": "text", "fontSize": 13, "fontWeight": "bold", "baseline": "alphabetic", "color": "#222"},
 "encoding": {"x": {"field": "mid", "type": "quantitative", "axis": null}, "y": {"datum": 42.3, "type": "quantitative", "axis": null}, "text": {"field": "sig"}}},
{"transform": [{"filter": "datum.k == 'b' && datum.sig == 'n.s.'"}], "mark": {"type": "text", "fontSize": 12, "baseline": "alphabetic", "color": "#333"},
 "encoding": {"x": {"field": "mid", "type": "quantitative", "axis": null}, "y": {"datum": 43, "type": "quantitative", "axis": null}, "text": {"field": "sig"}}}
]
}
},
{
"data": {"name": "B"},
"title": {"text": "B", "anchor": "start", "frame": "bounds", "fontSize": 32, "fontWeight": "bold", "color": "#000", "offset": 3, "dx": -14},
"transform": [
{"window": [{"op": "row_number", "as": "rn"}], "groupby": ["c", "g", "s"]},
{"calculate": "datum.g + (datum.s == 'b' ? -0.18 : 0.18)", "as": "xp"},
{"calculate": "datum.xp + ((datum.rn % 3) - 1) * 0.05", "as": "xj"}
],
"facet": {"column": {"field": "c", "type": "ordinal", "header": {"title": null, "labels": false}}},
"spacing": 46,
"resolve": {"scale": {"x": "independent"}},
"spec": {
"width": 194, "height": 157,
"resolve": {"axis": {"y": "independent"}},
"layer": [
{"transform": [{"filter": "!datum.k"}], "mark": {"type": "circle", "size": 16, "opacity": 1},
 "encoding": {
  "x": {"field": "xj", "type": "quantitative", "scale": {"zero": false, "nice": false, "padding": 0}, "axis": {"title": null, "labels": false, "ticks": false, "grid": false, "domainColor": "#888", "domainWidth": 1.2}},
  "y": {"field": "v", "type": "quantitative", "scale": {"domain": [-2, 48], "nice": false, "zero": false}, "axis": {"orient": "left", "offset": 11, "values": [0, 10, 20, 30, 40], "title": "Number of Cells/Embryo", "titleFontSize": 9, "titleFontWeight": "normal", "titleColor": "#333", "titlePadding": 8, "labelAngle": -90, "labelAlign": "center", "labelBaseline": "bottom", "labelFontSize": 10, "labelColor": "#444", "labelPadding": 3, "tickColor": "#888", "domainColor": "#888", "tickSize": 5, "grid": false}},
  "color": {"field": "s", "type": "nominal", "scale": {"domain": ["b", "r"], "range": ["#1c1cc8", "#e82a2a"]}, "legend": null}}},
{"transform": [{"filter": "datum.k == 'm'"}], "mark": {"type": "tick", "orient": "horizontal", "size": 19, "thickness": 1.5},
 "encoding": {"x": {"field": "xp", "type": "quantitative", "axis": null}, "y": {"field": "v", "type": "quantitative", "axis": null}, "color": {"field": "s", "type": "nominal", "legend": null}}},
{"transform": [{"filter": "datum.k == 'b'"}], "mark": {"type": "rule", "color": "#8a8a8a", "strokeWidth": 1.2},
 "encoding": {"x": {"field": "lo", "type": "quantitative", "axis": null}, "x2": {"field": "hi"}, "y": {"datum": 39, "type": "quantitative", "axis": {"orient": "left", "offset": 64, "title": "Tg OMP-β2AR:GFP", "titleFontSize": 13, "titleFontWeight": "bold", "titleFontStyle": "italic", "titleColor": "#000", "titlePadding": 8, "labels": false, "ticks": false, "domain": false, "grid": false}}}},
{"transform": [{"filter": "datum.k == 'b'"}], "mark": {"type": "rule", "color": "#8a8a8a", "strokeWidth": 1.2},
 "encoding": {"x": {"field": "lo", "type": "quantitative", "axis": null}, "y": {"datum": 38, "type": "quantitative", "axis": null}, "y2": {"datum": 40}}},
{"transform": [{"filter": "datum.k == 'b'"}], "mark": {"type": "rule", "color": "#8a8a8a", "strokeWidth": 1.2},
 "encoding": {"x": {"field": "hi", "type": "quantitative", "axis": null}, "y": {"datum": 38, "type": "quantitative", "axis": null}, "y2": {"datum": 40}}},
{"transform": [{"filter": "datum.k == 'b'"}], "mark": {"type": "rule", "color": "#8a8a8a", "strokeWidth": 1.2},
 "encoding": {"x": {"field": "mid", "type": "quantitative", "axis": null}, "y": {"datum": 39, "type": "quantitative", "axis": null}, "y2": {"datum": 40.7}}},
{"transform": [{"filter": "datum.k == 'b' && datum.sig != 'n.s.'"}], "mark": {"type": "text", "fontSize": 13, "fontWeight": "bold", "baseline": "alphabetic", "color": "#222"},
 "encoding": {"x": {"field": "mid", "type": "quantitative", "axis": null}, "y": {"datum": 42.3, "type": "quantitative", "axis": null}, "text": {"field": "sig"}}},
{"transform": [{"filter": "datum.k == 'b' && datum.sig == 'n.s.'"}], "mark": {"type": "text", "fontSize": 12, "baseline": "alphabetic", "color": "#333"},
 "encoding": {"x": {"field": "mid", "type": "quantitative", "axis": null}, "y": {"datum": 43, "type": "quantitative", "axis": null}, "text": {"field": "sig"}}}
]
}
},
{
"data": {"name": "C"},
"title": {"text": "C", "anchor": "start", "frame": "bounds", "fontSize": 32, "fontWeight": "bold", "color": "#000", "offset": 3, "dx": -14},
"transform": [
{"window": [{"op": "row_number", "as": "rn"}], "groupby": ["c", "g", "s"]},
{"calculate": "datum.g + (datum.s == 'b' ? -0.18 : 0.18)", "as": "xp"},
{"calculate": "datum.xp + ((datum.rn % 3) - 1) * 0.05", "as": "xj"}
],
"facet": {"column": {"field": "c", "type": "ordinal", "header": {"title": null, "labels": false}}},
"spacing": 46,
"resolve": {"scale": {"x": "independent"}},
"spec": {
"width": 194, "height": 157,
"resolve": {"axis": {"y": "independent"}},
"layer": [
{"transform": [{"filter": "!datum.k"}], "mark": {"type": "circle", "size": 16, "opacity": 1},
 "encoding": {
  "x": {"field": "xj", "type": "quantitative", "scale": {"zero": false, "nice": false, "padding": 0}, "axis": {"title": null, "labels": false, "ticks": false, "grid": false, "domainColor": "#888", "domainWidth": 1.2}},
  "y": {"field": "v", "type": "quantitative", "scale": {"domain": [-2, 48], "nice": false, "zero": false}, "axis": {"orient": "left", "offset": 11, "values": [0, 10, 20, 30, 40], "title": "Number of Cells/Embryo", "titleFontSize": 9, "titleFontWeight": "normal", "titleColor": "#333", "titlePadding": 8, "labelAngle": -90, "labelAlign": "center", "labelBaseline": "bottom", "labelFontSize": 10, "labelColor": "#444", "labelPadding": 3, "tickColor": "#888", "domainColor": "#888", "tickSize": 5, "grid": false}},
  "color": {"field": "s", "type": "nominal", "scale": {"domain": ["b", "r"], "range": ["#1c1cc8", "#e82a2a"]}, "legend": null}}},
{"transform": [{"filter": "datum.k == 'm'"}], "mark": {"type": "tick", "orient": "horizontal", "size": 19, "thickness": 1.5},
 "encoding": {"x": {"field": "xp", "type": "quantitative", "axis": null}, "y": {"field": "v", "type": "quantitative", "axis": null}, "color": {"field": "s", "type": "nominal", "legend": null}}},
{"transform": [{"filter": "datum.k == 'b'"}], "mark": {"type": "rule", "color": "#8a8a8a", "strokeWidth": 1.2},
 "encoding": {"x": {"field": "lo", "type": "quantitative", "axis": null}, "x2": {"field": "hi"}, "y": {"datum": 39, "type": "quantitative", "axis": {"orient": "left", "offset": 64, "title": "Tg OMP-β2AR*:GFP", "titleFontSize": 13, "titleFontWeight": "bold", "titleFontStyle": "italic", "titleColor": "#000", "titlePadding": 8, "labels": false, "ticks": false, "domain": false, "grid": false}}}},
{"transform": [{"filter": "datum.k == 'b'"}], "mark": {"type": "rule", "color": "#8a8a8a", "strokeWidth": 1.2},
 "encoding": {"x": {"field": "lo", "type": "quantitative", "axis": null}, "y": {"datum": 38, "type": "quantitative", "axis": null}, "y2": {"datum": 40}}},
{"transform": [{"filter": "datum.k == 'b'"}], "mark": {"type": "rule", "color": "#8a8a8a", "strokeWidth": 1.2},
 "encoding": {"x": {"field": "hi", "type": "quantitative", "axis": null}, "y": {"datum": 38, "type": "quantitative", "axis": null}, "y2": {"datum": 40}}},
{"transform": [{"filter": "datum.k == 'b'"}], "mark": {"type": "rule", "color": "#8a8a8a", "strokeWidth": 1.2},
 "encoding": {"x": {"field": "mid", "type": "quantitative", "axis": null}, "y": {"datum": 39, "type": "quantitative", "axis": null}, "y2": {"datum": 40.7}}},
{"transform": [{"filter": "datum.k == 'b' && datum.sig != 'n.s.'"}], "mark": {"type": "text", "fontSize": 13, "fontWeight": "bold", "baseline": "alphabetic", "color": "#222"},
 "encoding": {"x": {"field": "mid", "type": "quantitative", "axis": null}, "y": {"datum": 42.3, "type": "quantitative", "axis": null}, "text": {"field": "sig"}}},
{"transform": [{"filter": "datum.k == 'b' && datum.sig == 'n.s.'"}], "mark": {"type": "text", "fontSize": 12, "baseline": "alphabetic", "color": "#333"},
 "encoding": {"x": {"field": "mid", "type": "quantitative", "axis": null}, "y": {"datum": 43, "type": "quantitative", "axis": null}, "text": {"field": "sig"}}}
]
}
}
]
}
